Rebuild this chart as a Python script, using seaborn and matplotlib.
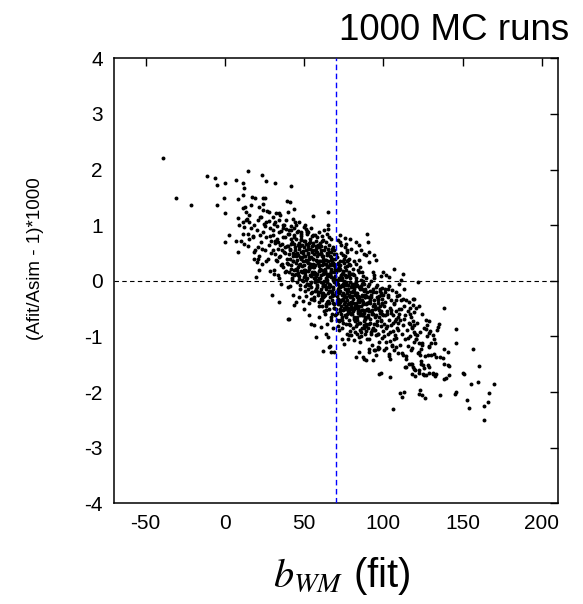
import matplotlib
matplotlib.use("Agg")
import matplotlib.pyplot as plt
import seaborn as sns
import pandas as pd

# ---------------- data ----------------
title_text = "1000 MC runs"
x_ticks = [-50, 0, 50, 100, 150, 200]
y_ticks = [-4, -3, -2, -1, 0, 1, 2, 3, 4]
b_true = 70            # vertical reference line
x_range = (-70, 210)
y_range = (-4, 4)

# isolated points, upper-left region
x_left = [-39.1, -30.5, -21.4, -11.5, -6.3, -5.0, 0.3, 14.5, 7.4, 11.2, 12.0, -0.6, -4.8, 0.0, 8.4,
          11.3, 17.3, 19.2, 2.5, 0.4, 7.2, 8.6, 12.2, 19.5, 20.2, 11.3, 13.5, 16.6, 8.2, 11.3,
          13.9, 15.6, 9.3, 12.4, 18.7, 20.8, 14.5, 17.7, 15.6, 18.7, 20.8]
y_left = [2.20, 1.49, 1.37, 1.89, 1.85, 1.72, 1.75, 1.98, 1.82, 1.75, 1.67, 1.49, 1.37, 1.22, 1.47,
          1.54, 1.51, 1.48, 0.83, 0.69, 0.72, 0.52, 0.67, 0.07, 0.33, 1.30, 1.24, 1.36, 1.13, 1.06,
          1.12, 1.05, 1.00, 0.97, 1.00, 1.09, 0.85, 0.81, 0.75, 0.52, 0.40]

# upper fringe of the cloud
x_up = [23.6, 26.1, 32.0, 41.9, 24.4, 25.7, 39.1, 41.2, 43.9, 55.5, 64.9, 64.9, 65.4, 72.8, 76.1,
        79.1, 89.8, 90.6, 82.8, 84.9, 71.2, 47.1, 50.3, 52.3, 88.1, 91.3, 94.4, 21.9, 24.0, 28.2,
        30.3, 22.9, 26.1, 31.3, 34.5, 36.6, 38.7, 41.9, 42.9, 39.7, 34.5, 45.0, 48.2, 51.3, 55.5,
        59.7, 61.8, 66.0, 58.6, 73.4, 76.5, 79.7, 82.8, 86.0, 89.2, 74.4, 78.6, 84.9, 91.2, 95.5]
y_up = [1.90, 1.79, 1.75, 1.71, 1.49, 1.49, 1.44, 1.41, 1.29, 1.16, 1.24, 1.00, 0.94, 0.83, 0.77,
        0.76, 0.85, 0.69, 0.70, 0.64, 0.73, 1.06, 0.97, 0.88, 0.49, 0.52, 0.46, 1.33, 1.27, 1.24,
        1.15, 1.15, 1.06, 1.03, 1.09, 1.00, 0.94, 0.91, 1.12, 1.24, 1.21, 1.00, 0.88, 0.94, 0.82,
        0.88, 0.73, 0.79, 0.64, 0.64, 0.67, 0.58, 0.52, 0.55, 0.46, 0.46, 0.40, 0.37, 0.34, 0.37]

# points near the zero line, right side
x_zero = [106.9, 112.6, 99.6, 101.8, 103.4, 98.6, 121.7, 111.2, 110.1, 113.3, 118.5]
y_zero = [0.21, 0.13, 0.16, 0.10, 0.07, 0.08, -0.02, 0.01, -0.05, -0.14, -0.32]

# lower fringe of the cloud
x_low = [29.9, 34.5, 39.7, 43.9, 45.0, 50.3, 49.2, 53.4, 59.7, 54.5, 56.6, 60.8, 57.6, 63.9, 64.9,
         66.5, 61.8, 69.2, 75.5, 77.6, 81.8, 84.9, 79.7, 82.8, 84.9, 87.0, 89.2, 91.3, 94.4, 95.5,
         96.5, 97.5, 40.4, 66.0, 67.1, 88.1, 93.3, 91.2, 96.5, 100.7, 103.8, 108.1, 112.2, 114.4,
         116.5, 119.6, 122.8, 125.9, 131.2, 133.3, 98.6, 104.3]
y_low = [-0.25, -0.38, -0.69, -0.44, -0.38, -0.50, -0.37, -0.62, -0.65, -0.77, -0.80, -0.83, -1.01,
         -0.95, -1.01, -1.17, -1.26, -1.28, -1.14, -1.04, -1.07, -1.01, -0.98, -1.37, -1.28, -1.37,
         -1.43, -1.22, -1.25, -1.34, -1.19, -1.67, -0.69, -1.19, -1.28, -1.40, -1.43, -1.28, -1.22,
         -1.25, -1.31, -1.19, -1.34, -1.55, -1.49, -1.58, -1.61, -1.70, -1.67, -1.68, -1.65, -1.73]

# right tail
x_tail = [138.1, 119.2, 145.9, 145.9, 156.4, 160.1, 159.9, 169.9, 155.5, 150.1, 151.1, 166.5, 166.3,
          163.5, 152.6, 153.8, 163.3, 146.1, 145.0, 135.6, 124.5, 126.4, 122.3, 123.2, 113.3, 110.6,
          111.6, 106.4, 138.5, 139.6, 141.7, 140.6, 141.7, 138.5, 137.9, 136.0, 133.3, 132.2, 138.5,
          140.6, 134.3, 135.4, 133.7]
y_tail = [-0.48, -0.33, -0.86, -1.11, -1.23, -1.53, -1.82, -1.85, -1.86, -1.65, -1.68, -2.02, -2.18,
          -2.25, -2.15, -2.28, -2.51, -2.00, -2.04, -2.06, -2.06, -2.10, -2.03, -1.97, -2.00, -2.01,
          -2.09, -2.30, -1.76, -1.74, -1.70, -1.52, -1.53, -1.49, -1.39, -1.37, -1.37, -1.31, -1.22,
          -1.28, -0.83, -0.77, -0.89]

# right part of the cloud
x_right = [131.2, 131.8, 132.8, 130.1, 129.1, 128.0, 130.1, 129.1, 128.6, 131.2, 132.8, 125.9, 127.0,
           125.3, 122.3, 120.2, 118.2, 120.2, 117.5, 118.5, 123.8, 124.8, 123.2, 122.3, 123.8, 124.5,
           122.8, 120.7, 121.3, 119.6, 118.2, 117.1, 117.5, 119.2, 120.7, 122.3, 124.5, 127.0, 129.1,
           127.6, 127.0, 128.6, 118.5, 116.5, 114.4, 112.2, 110.1, 108.1, 105.5, 102.8, 99.2, 98.6]
y_right = [-0.98, -1.05, -1.11, -1.12, -1.19, -1.34, -1.34, -1.55, -1.65, -1.65, -1.71, -1.56, -1.70,
           -1.68, -1.65, -1.61, -1.67, -1.71, -1.49, -1.55, -1.49, -1.52, -1.34, -1.28, -1.22, -1.16,
           -1.11, -1.04, -0.98, -0.92, -0.83, -0.77, -0.65, -0.56, -0.48, -0.46, -0.60, -0.71, -0.72,
           -0.80, -0.87, -0.94, -0.44, -0.39, -0.35, -0.32, -0.26, -0.20, -0.17, -0.14, -0.13, -0.26]

# dense core, estimated slice by slice (b from 10 to 40)
x_core1 = [11.2, 13.5, 14.8, 16.3, 17.9, 12.6, 19.4, 15.5, 18.2, 10.4,
           20.5, 21.3, 22.1, 22.8, 23.4, 24.0, 24.6, 25.2, 25.9, 26.5, 27.1, 27.7, 28.3, 28.8, 29.4,
           20.9, 22.5, 24.3, 26.1, 27.9, 29.1, 21.7, 23.8, 25.6, 28.5,
           30.2, 30.7, 31.1, 31.6, 32.0, 32.4, 32.9, 33.3, 33.8, 34.2, 34.6, 35.1, 35.5, 35.9, 36.4,
           36.8, 37.2, 37.7, 38.1, 38.5, 39.0, 39.4, 39.8, 30.5, 31.4, 32.2, 33.0, 33.6, 34.4, 35.3,
           36.1, 36.6, 37.5, 38.3, 39.2, 39.7, 30.9, 31.8, 32.7, 34.0, 34.9, 35.7, 37.0, 37.9, 38.8]
y_core1 = [0.85, 1.10, 0.62, 0.95, 0.78, 1.32, 0.55, 1.18, 0.40, 0.72,
           0.92, 0.45, 1.15, 0.70, 0.30, 0.88, 1.02, 0.55, 0.78, 1.25, 0.40, 0.64, 0.95, 0.18, 0.72,
           0.60, 0.83, 1.38, 0.35, 1.08, 0.50, 0.20, 0.58, 0.98, 0.80,
           0.55, 0.92, 0.20, 0.68, 1.05, 0.38, 0.75, 0.10, 0.58, 0.88, 1.18, 0.45, -0.05, 0.66, 0.30,
           0.95, 0.52, 0.15, 0.78, 1.10, 0.40, 0.62, -0.12, 0.82, 0.48, 1.22, 0.35, 0.70, 0.05, 0.90,
           0.55, 0.25, 1.00, 0.60, 0.32, 0.85, 0.12, 0.72, 0.98, 0.42, 0.65, 0.28, 0.78, 0.50, 0.18]

# dense core, b from 40 to 60
x_core2 = [40.1, 40.3, 40.6, 40.9, 41.2, 41.4, 41.7, 42.0, 42.2, 42.5, 42.8, 43.0, 43.3, 43.6, 43.9,
           44.1, 44.4, 44.7, 44.9, 45.2, 45.5, 45.7, 46.0, 46.3, 46.6, 46.8, 47.1, 47.4, 47.6, 47.9,
           48.2, 48.4, 48.7, 49.0, 49.3, 49.5, 49.8,
           40.4, 40.8, 41.5, 41.9, 42.4, 42.9, 43.4, 43.8, 44.3, 44.8, 45.3, 45.9, 46.4, 46.9, 47.3,
           47.8, 48.3, 48.8, 49.2, 49.7,
           40.2, 41.0, 41.8, 42.6, 43.2, 44.0, 44.6, 45.4, 46.1, 46.7, 47.5, 48.1, 48.6, 49.4, 49.9,
           45.0, 43.7, 47.0,
           50.1, 50.4, 50.6, 50.9, 51.2, 51.4, 51.7, 52.0, 52.2, 52.5, 52.8, 53.0, 53.3, 53.6, 53.8,
           54.1, 54.4, 54.6, 54.9, 55.2, 55.4, 55.7, 56.0, 56.2, 56.5, 56.8, 57.0, 57.3, 57.6, 57.8,
           58.1, 58.4, 58.6, 58.9, 59.2, 59.4, 59.7, 59.9,
           50.3, 50.8, 51.3, 51.8, 52.3, 52.7, 53.2, 53.7, 54.2, 54.7, 55.1, 55.6, 56.1, 56.6, 57.1,
           57.5, 58.0, 58.5, 59.0, 59.5, 50.5, 51.5, 52.6, 53.5, 54.5, 55.5, 56.4, 57.4, 58.3, 59.3,
           50.2, 51.0, 51.9, 52.9, 53.9, 54.8, 55.8, 56.7, 57.7, 58.7, 59.6, 50.7, 51.6, 52.4, 53.4,
           54.3, 55.3, 56.3, 57.2, 58.2, 59.1, 51.1, 53.1, 55.0, 56.9, 58.8, 54.0]
y_core2 = [0.62, 0.15, 0.85, 0.40, -0.10, 0.55, 0.28, 0.98, 0.05, 0.70, 0.35, -0.25, 0.50, 0.82, 0.20,
           0.60, 1.05, 0.12, 0.45, 0.75, -0.02, 0.38, 0.90, 0.25, 0.58, 0.08, 0.68, 0.30, -0.15, 0.52,
           0.80, 0.18, 0.42, 0.65, 0.00, 0.35, 0.72,
           0.48, 0.92, 0.22, 0.66, 0.02, 0.44, 0.78, 0.10, 0.56, 0.32, 0.88, 0.14, 0.46, 0.62, -0.08,
           0.40, 0.74, 0.26, 0.54, 0.06,
           0.30, 0.58, 0.75, 0.12, 0.36, 0.95, 0.48, 0.20, 0.64, 0.04, 0.42, 0.84, 0.16, 0.50, 0.28,
           0.22, 0.66, -0.30,
           0.45, -0.10, 0.72, 0.20, 0.55, -0.28, 0.35, 0.88, 0.05, 0.62, 0.18, -0.40, 0.40, 0.75, -0.05,
           0.30, 0.95, 0.10, 0.52, -0.20, 0.25, 0.68, -0.35, 0.15, 0.48, 0.82, 0.00, 0.38, -0.15, 0.58,
           0.12, 0.78, -0.25, 0.32, 0.05, 0.60, -0.45, 0.22,
           0.60, 0.10, 0.38, 0.85, -0.15, 0.50, 0.25, 0.70, -0.02, 0.42, 0.15, 0.65, -0.30, 0.28, 0.55,
           0.08, 0.35, -0.12, 0.48, 0.18, 1.00, 0.02, 0.32, 0.58, -0.22, 0.40, 0.12, 0.72, -0.08, 0.26,
           0.20, 0.66, -0.05, 0.42, 0.10, 0.80, 0.30, -0.18, 0.52, 0.02, 0.36, 0.15, 0.90, 0.48, 0.22,
           -0.32, 0.62, 0.05, 0.28, 0.44, -0.20, 0.35, -0.08, 0.56, 0.14, 0.00, 0.24]

# dense core, b from 60 to 80
x_core3 = [60.1, 60.3, 60.6, 60.8, 61.1, 61.3, 61.6, 61.8, 62.1, 62.3, 62.6, 62.8, 63.1, 63.3, 63.6,
           63.8, 64.1, 64.3, 64.6, 64.8, 65.1, 65.3, 65.6, 65.8, 66.1, 66.3, 66.6, 66.8, 67.1, 67.3,
           67.6, 67.8, 68.1, 68.3, 68.6, 68.8, 69.1, 69.3, 69.6, 69.8,
           60.2, 60.5, 60.9, 61.2, 61.5, 61.9, 62.2, 62.5, 62.9, 63.2, 63.5, 63.9, 64.2, 64.5, 64.9,
           65.2, 65.5, 65.9, 66.2, 66.5, 66.9, 67.2, 67.5, 67.9, 68.2, 68.5, 68.9, 69.2, 69.5, 69.9,
           60.4, 61.4, 62.4, 63.4, 64.4, 65.4, 66.4, 67.4, 68.4, 69.4,
           60.7, 61.7, 62.7, 63.7, 64.7, 65.7, 66.7, 67.7, 68.7, 69.7, 61.0, 62.0, 63.0, 64.0, 65.0,
           66.0, 67.0, 68.0, 69.0, 60.0, 62.9, 64.2, 66.9, 68.5, 63.3, 65.8, 61.6, 67.3, 69.2, 64.6,
           70.1, 70.3, 70.6, 70.8, 71.1, 71.3, 71.6, 71.8, 72.1, 72.3, 72.6, 72.8, 73.1, 73.3, 73.6,
           73.8, 74.1, 74.3, 74.6, 74.8, 75.1, 75.3, 75.6, 75.8, 76.1, 76.3, 76.6, 76.8, 77.1, 77.3,
           77.6, 77.8, 78.1, 78.3, 78.6, 78.8, 79.1, 79.3, 79.6, 79.8,
           70.2, 70.5, 70.9, 71.2, 71.5, 71.9, 72.2, 72.5, 72.9, 73.2, 73.5, 73.9, 74.2, 74.5, 74.9,
           75.2, 75.5, 75.9, 76.2, 76.5, 76.9, 77.2, 77.5, 77.9, 78.2, 78.5, 78.9, 79.2, 79.5, 79.9,
           70.4, 71.4, 72.4, 73.4, 74.4, 75.4, 76.4, 77.4, 78.4, 79.4,
           70.7, 71.7, 72.7, 73.7, 74.7, 75.7, 76.7, 77.7, 78.7, 79.7, 71.0, 72.0, 73.0, 74.0, 75.0,
           76.0, 77.0, 78.0, 79.0, 70.0, 72.9, 74.2, 76.9, 78.5, 73.3, 75.8, 71.6, 77.3, 79.2, 74.6]
y_core3 = [0.35, -0.20, 0.62, 0.10, -0.45, 0.28, 0.80, -0.05, 0.45, -0.30, 0.15, 0.55, -0.60, 0.22, 0.70,
           -0.12, 0.38, 0.02, -0.38, 0.50, 0.08, -0.22, 0.65, -0.50, 0.30, 0.12, -0.08, 0.42, -0.70, 0.18,
           0.58, -0.28, 0.05, 0.32, -0.15, 0.48, -0.42, 0.20, 0.00, -0.62,
           0.05, 0.50, -0.32, 0.20, 0.72, -0.10, 0.40, -0.55, 0.14, 0.60, -0.25, 0.30, 0.85, -0.02, -0.40,
           0.25, 0.52, -0.18, 0.10, 0.44, -0.65, 0.16, -0.35, 0.36, 0.02, -0.12, 0.56, -0.48, 0.24, -0.05,
           0.68, -0.28, 0.18, -0.08, 0.46, -0.36, 0.28, -0.20, 0.60, 0.08,
           -0.15, 0.34, 0.00, -0.42, 0.26, 0.12, -0.30, 0.40, -0.02, 0.22, 0.48, -0.22, 0.15, -0.52, 0.58,
           -0.06, 0.06, -0.40, 0.30, 0.20, 0.92, -0.78, 0.75, -0.85, 0.38, -0.12, -0.35, 0.52, -0.25, 0.10,
           -0.50, 0.15, -0.28, 0.42, -0.70, -0.05, 0.30, -0.40, 0.05, -0.88, -0.18, 0.22, -0.60, 0.50, -0.10,
           -0.35, 0.12, -0.75, -0.22, 0.35, -0.48, 0.00, -0.15, 0.60, -0.62, -0.30, 0.20, -0.08, -0.95, 0.08,
           -0.42, 0.38, -0.25, -0.55, 0.10, -0.02, -0.80, 0.28, -0.38, -0.12,
           -0.20, 0.48, -0.58, 0.02, -0.32, 0.25, -0.72, -0.12, 0.35, -0.45, 0.10, -0.85, -0.25, 0.18, -0.52,
           -0.02, 0.40, -0.38, -0.65, 0.06, -0.18, 0.55, -0.48, -0.08, 0.30, -0.70, -0.28, 0.12, -0.40, -0.60,
           0.22, -0.15, -0.50, 0.04, -0.35, 0.32, -0.78, -0.22, 0.16, -0.45,
           0.00, -0.42, 0.28, -0.65, -0.10, 0.45, -0.30, -0.55, 0.14, -0.20, -0.38, 0.20, -0.70, 0.05, -0.28,
           -0.50, 0.36, -0.14, -0.90, -0.60, 0.70, -1.05, 0.52, -0.98, -0.35, 0.10, -0.82, 0.26, -0.58, -0.06]

# dense core, b from 80 to 100
x_core4 = [80.1, 80.4, 80.6, 80.9, 81.2, 81.4, 81.7, 82.0, 82.2, 82.5, 82.8, 83.0, 83.3, 83.6, 83.8,
           84.1, 84.4, 84.6, 84.9, 85.2, 85.4, 85.7, 86.0, 86.2, 86.5, 86.8, 87.0, 87.3, 87.6, 87.8,
           88.1, 88.4, 88.6, 88.9, 89.2, 89.4, 89.7, 89.9,
           80.3, 80.8, 81.3, 81.8, 82.3, 82.7, 83.2, 83.7, 84.2, 84.7, 85.1, 85.6, 86.1, 86.6, 87.1,
           87.5, 88.0, 88.5, 89.0, 89.5, 80.5, 81.5, 82.6, 83.5, 84.5, 85.5, 86.4, 87.4, 88.3, 89.3,
           80.2, 81.0, 81.9, 82.9, 83.9, 84.8, 85.8, 86.7, 87.7, 88.7, 89.6, 80.7, 81.6, 82.4, 83.4,
           84.3, 85.3, 86.3, 87.2, 88.2, 89.1, 81.1, 83.1, 85.0, 86.9, 88.8, 84.0,
           90.1, 90.3, 90.6, 90.9, 91.2, 91.4, 91.7, 92.0, 92.2, 92.5, 92.8, 93.0, 93.3, 93.6, 93.9,
           94.1, 94.4, 94.7, 94.9, 95.2, 95.5, 95.7, 96.0, 96.3, 96.6, 96.8, 97.1, 97.4, 97.6, 97.9,
           98.2, 98.4, 98.7, 99.0, 99.3, 99.5, 99.8,
           90.4, 90.8, 91.5, 91.9, 92.4, 92.9, 93.4, 93.8, 94.3, 94.8, 95.3, 95.9, 96.4, 96.9, 97.3,
           97.8, 98.3, 98.8, 99.2, 99.7,
           90.2, 91.0, 91.8, 92.6, 93.2, 94.0, 94.6, 95.4, 96.1, 96.7, 97.5, 98.1, 98.6, 99.4, 99.9,
           95.0, 93.7, 97.0]
y_core4 = [-0.05, -0.60, 0.22, -0.32, -0.85, -0.15, 0.10, -0.48, -0.70, -0.22, 0.30, -0.40, -0.95, -0.08,
           -0.55, -0.28, 0.15, -0.75, -0.35, -0.12, -0.62, 0.02, -0.45, -1.00, -0.25, -0.52, 0.08, -0.38,
           -0.80, -0.18, -0.58, -0.30, -0.68, 0.05, -0.42, -0.90, -0.20, -0.50,
           -0.38, 0.12, -0.65, -0.20, -0.45, -0.02, -0.78, -0.30, 0.20, -0.55, -0.15, -0.88, -0.35, -0.60,
           0.00, -0.42, -0.72, -0.25, -0.52, -1.05, -0.28, -0.50, -0.10, -0.70, -0.32, 0.25, -0.62, -0.40,
           -0.15, -0.82,
           -0.48, -0.18, -0.72, 0.05, -0.35, -0.58, -0.10, -0.85, -0.28, -0.65, -0.40, -0.55, 0.35, -0.92,
           -0.22, -0.45, -1.10, -0.05, -0.62, -0.30, -0.78, -0.12, -0.68, -0.38, 0.15, -0.95, -0.50,
           -0.30, -0.85, -0.10, -0.55, -1.05, -0.40, -0.68, 0.00, -0.92, -0.25, -0.60, -1.15, -0.45, -0.15,
           -0.78, -0.35, 0.05, -0.88, -0.50, -0.20, -0.98, -0.62, -0.08, -0.72, -0.40, -0.95, -0.28, -0.65,
           -1.20, -0.45, -0.18, -0.82, -0.55, -0.32, -1.02, -0.60, -0.25,
           -0.50, -0.05, -0.75, -0.30, -0.95, -0.52, -0.20, -0.85, -0.42, -0.65, -0.12, -0.80, -0.48, -0.32,
           -1.10, -0.58, -0.22, -0.70, -0.40, -0.90,
           -0.65, -0.38, -0.18, -0.88, -0.58, 0.10, -0.45, -0.78, -0.30, -0.95, -0.52, -0.15, -0.72, -0.42,
           -0.62, -1.25, 0.15, -0.35]

# dense core, b from 100 to 130
x_core5 = [100.2, 100.6, 100.9, 101.3, 101.6, 102.0, 102.4, 102.7, 103.1, 103.4, 103.8, 104.2, 104.5,
           104.9, 105.2, 105.6, 106.0, 106.3, 106.7, 107.0, 107.4, 107.8, 108.1, 108.5, 108.8, 109.2,
           109.6, 109.9,
           100.4, 101.1, 101.8, 102.5, 103.3, 104.0, 104.7, 105.4, 106.1, 106.9, 107.6, 108.3, 109.0,
           109.7, 100.8, 102.2, 103.6, 105.0, 106.5, 107.9, 109.4, 104.4,
           110.3, 110.8, 111.2, 111.7, 112.1, 112.6, 113.0, 113.5, 113.9, 114.4, 114.8, 115.3, 115.7,
           116.2, 116.6, 117.1, 117.5, 118.0, 118.4, 118.9, 119.3, 119.8, 111.0, 112.9, 114.1, 115.5,
           116.9, 118.2, 119.5, 113.7,
           120.5, 121.4, 122.2, 123.0, 123.9, 124.7, 125.6, 126.4, 127.3, 128.1, 129.0, 129.8]
y_core5 = [-0.45, -1.00, -0.62, -0.20, -0.85, -1.20, -0.55, -0.30, -0.95, -0.70, -0.10, -1.08, -0.48,
           -0.80, -0.35, -1.15, -0.62, -0.90, -0.40, -1.25, -0.72, -0.55, -1.02, -0.28, -0.85, -0.65,
           -1.30, -0.50,
           -0.78, -0.38, -1.10, -0.60, -0.25, -0.92, -0.58, -1.18, -0.75, -0.42, -0.98, -0.68, -0.88,
           -0.60, -0.15, -0.82, -1.35, -0.52, -1.05, -0.35, -0.75, -1.40,
           -0.70, -1.15, -0.50, -0.95, -1.30, -0.80, -0.45, -1.05, -0.62, -1.40, -0.88, -0.55, -1.18,
           -0.75, -1.00, -0.60, -1.25, -0.85, -1.50, -0.72, -1.10, -0.95, -0.35, -0.68, -1.35, -1.02,
           -0.48, -1.20, -0.80, -1.55,
           -1.05, -0.75, -1.30, -0.92, -1.45, -1.12, -0.85, -1.35, -1.00, -1.52, -1.18, -0.90]

# densest part of the core, b from 45 to 95
x_core6 = [45.3, 46.2, 47.7, 48.9, 50.6, 51.7, 52.5, 53.8, 54.6, 55.9, 56.7, 57.9, 58.8, 59.6, 60.5,
           61.3, 62.4, 63.2, 64.1, 64.9, 65.7, 66.6, 67.5, 68.3, 69.1, 70.4, 71.2, 72.0, 72.9, 73.7,
           74.5, 75.4, 76.2, 77.1, 77.9, 78.8, 79.6, 80.5, 81.3, 82.2, 83.0, 83.9, 84.7, 85.6, 86.4,
           87.3, 88.1, 89.0, 90.3, 91.6,
           46.8, 48.1, 49.4, 50.9, 52.1, 53.3, 54.2, 55.3, 56.2, 57.4, 58.3, 59.2, 60.1, 61.0, 61.8,
           62.7, 63.6, 64.4, 65.3, 66.1, 67.0, 67.8, 68.7, 69.5, 70.8, 71.6, 72.5, 73.3, 74.2, 75.0,
           75.9, 76.7, 77.6, 78.4, 79.3, 80.1, 81.0, 81.8, 82.7, 83.5, 84.4, 85.2, 86.1, 86.9, 87.8,
           88.6, 89.5, 91.0, 92.5, 94.0,
           55.0, 58.0, 61.5, 63.9, 66.4, 68.9, 71.9, 74.8, 77.3, 80.8, 83.3, 86.6, 89.9, 93.3, 57.0,
           62.0, 67.2, 72.2, 78.1, 84.1]
y_core6 = [0.50, 0.10, 0.62, 0.02, 0.45, -0.05, 0.58, 0.30, -0.12, 0.40, 0.05, 0.52, -0.20, 0.28, -0.02,
           0.45, -0.28, 0.18, -0.15, 0.35, -0.40, 0.10, -0.22, 0.28, -0.48, 0.02, -0.32, 0.22, -0.55, -0.08,
           0.15, -0.42, -0.02, -0.60, -0.18, 0.05, -0.50, -0.10, -0.68, -0.25, 0.00, -0.58, -0.30, -0.75,
           -0.15, -0.52, -0.85, -0.28, -0.62, -0.35,
           0.28, 0.75, 0.15, -0.18, 0.35, 0.68, 0.08, -0.32, 0.25, 0.62, 0.00, -0.38, 0.20, 0.55, -0.10,
           0.30, -0.45, 0.12, 0.50, -0.18, 0.22, -0.60, 0.05, 0.40, -0.20, 0.32, -0.38, 0.08, -0.70, -0.25,
           0.25, -0.45, -0.08, -0.78, -0.30, 0.12, -0.40, -0.05, -0.82, -0.45, -0.12, -0.55, -0.92, -0.35,
           -0.05, -0.68, -0.40, -0.78, -0.30, -0.88,
           0.12, 0.35, -0.22, 0.05, -0.10, 0.15, -0.12, -0.32, -0.35, -0.20, -0.65, -0.28, -0.52, -0.60,
           -0.02, 0.12, 0.38, -0.22, -0.40, -0.48]

# ---------------- assemble ----------------
groups = [(x_left, y_left), (x_up, y_up), (x_zero, y_zero), (x_low, y_low), (x_tail, y_tail),
          (x_right, y_right), (x_core1, y_core1), (x_core2, y_core2), (x_core3, y_core3),
          (x_core4, y_core4), (x_core5, y_core5), (x_core6, y_core6)]
bx, ay = [], []
for gx, gy in groups:
    for a, b in zip(gx, gy):
        bx.append(a)
        ay.append(b)
df = pd.DataFrame({"b_WM": bx, "dA": ay})

# ---------------- style ----------------
sns.set_style("white")
plt.rcParams["font.family"] = ["Liberation Sans", "DejaVu Sans"]
plt.rcParams["mathtext.fontset"] = "stix"
plt.rcParams["axes.unicode_minus"] = False
plt.rcParams["text.color"] = "black"

W, H = 583, 604
fig = plt.figure(figsize=(W / 100, H / 100), dpi=100)
left, right, top, bottom = 113.8, 557.6, 58.3, 503.3
ax = fig.add_axes([left / W, 1 - bottom / H, (right - left) / W, (bottom - top) / H])

sns.scatterplot(data=df, x="b_WM", y="dA", ax=ax, color="black", s=8, linewidth=0,
                marker="o", legend=False, zorder=2)

ax.axhline(0, color="black", lw=0.8, ls=(0, (4, 3)), zorder=3)
ax.axvline(b_true, color="blue", lw=1.0, ls=(0, (4, 2.5)), zorder=3)

ax.set_xlim(*x_range)
ax.set_ylim(*y_range)
ax.set_xticks(x_ticks)
ax.set_yticks(y_ticks)
ax.set_xticklabels([str(v) for v in x_ticks])
ax.set_yticklabels([str(v) for v in y_ticks])
ax.tick_params(direction="in", top=True, right=True, length=6, width=1.0,
               labelsize=15, pad=8, colors="black")
for sp in ax.spines.values():
    sp.set_visible(True)
    sp.set_color("black")
    sp.set_linewidth(1.1)
ax.set_xlabel("")
ax.set_ylabel("")

fig.text(36 / W, 1 - 259 / H, "(Afit/Asim - 1)*1000", rotation=90, ha="center",
         va="center", fontsize=13.5, color="black")
fig.text(342 / W, 1 - 576 / H, r"$b_{WM}$ (fit)", ha="center", va="center", fontsize=29,
         color="black")
fig.text(569 / W, 1 - 40 / H, title_text, ha="right", va="baseline", fontsize=26.5,
         color="black")

fig.savefig("out.png", dpi=100)
